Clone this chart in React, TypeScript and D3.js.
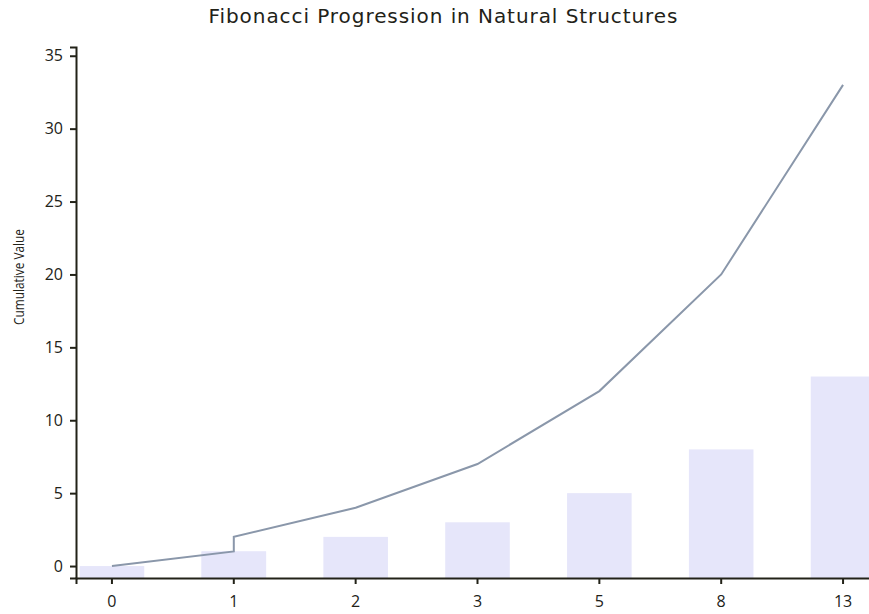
import * as d3 from 'd3';
import { useEffect, useRef } from 'react';

// Fibonacci terms (the two 1s share one x position)
const terms = [0, 1, 1, 2, 3, 5, 8, 13];
const cumulative = [0, 1, 2, 4, 7, 12, 20, 33];
const categories = ['0', '1', '2', '3', '5', '8', '13'];
const yTicks = [0, 5, 10, 15, 20, 25, 30, 35];

const WIDTH = 869;
const HEIGHT = 614;
const margin = { top: 47, right: -10, bottom: 36, left: 76 };
const FONT = '"Open Sans", sans-serif';
const TITLE_FONT = '"DejaVu Sans", sans-serif';
const INK = '#222218';

export default function App() {
    const xAxisRef = useRef<SVGGElement>(null);
    const yAxisRef = useRef<SVGGElement>(null);

    const innerW = WIDTH - margin.left - margin.right;
    const innerH = HEIGHT - margin.top - margin.bottom;

    const x = d3
        .scaleBand<string>()
        .domain(categories)
        .range([0, innerW])
        .paddingInner(0.47)
        .paddingOuter(0.03);

    const y = d3.scaleLinear().domain([-0.82, 35.6]).range([innerH, 0]);

    const line = d3
        .line<number>()
        .x((_, i) => x(String(terms[i]))! + x.bandwidth() / 2)
        .y((d) => y(d));

    useEffect(() => {
        if (xAxisRef.current) {
            d3.select(xAxisRef.current)
                .call(d3.axisBottom(x).tickSizeOuter(0).tickSize(6).tickPadding(12))
                .call((g) => g.select('.domain').attr('stroke', INK).attr('stroke-width', 2))
                .call((g) => g.selectAll('.tick line').attr('stroke', INK).attr('stroke-width', 2))
                .call((g) =>
                    g
                        .selectAll('.tick text')
                        .attr('fill', INK)
                        .attr('font-size', 16)
                        .attr('font-family', FONT)
                );
        }
        if (yAxisRef.current) {
            d3.select(yAxisRef.current)
                .call(d3.axisLeft(y).tickValues(yTicks).tickSizeOuter(0).tickSize(6).tickPadding(7))
                .call((g) => g.select('.domain').attr('stroke', INK).attr('stroke-width', 2))
                .call((g) => g.selectAll('.tick line').attr('stroke', INK).attr('stroke-width', 2))
                .call((g) =>
                    g
                        .selectAll('.tick text')
                        .attr('fill', INK)
                        .attr('font-size', 16)
                        .attr('font-family', FONT)
                );
        }
    }, [x, y]);

    return (
        <svg
            width={WIDTH}
            height={HEIGHT}
            style={{ position: 'absolute', left: 0, top: 0, overflow: 'hidden' }}
        >
            <text
                x={443}
                y={23}
                textAnchor="middle"
                fontFamily={TITLE_FONT}
                fontSize={20}
                textLength={469}
                lengthAdjust="spacing"
                fill={INK}
            >
                Fibonacci Progression in Natural Structures
            </text>
            <text
                transform={`translate(24, 277) rotate(-90)`}
                textAnchor="middle"
                fontFamily={FONT}
                fontSize={15}
                textLength={96}
                lengthAdjust="spacingAndGlyphs"
                fill={INK}
            >
                Cumulative Value
            </text>
            <g transform={`translate(${margin.left}, ${margin.top})`}>
                {terms.map((d, i) => (
                    <rect
                        key={i}
                        x={x(String(d))}
                        y={y(d)}
                        width={x.bandwidth()}
                        height={innerH - y(d)}
                        fill="lavender"
                    />
                ))}
                <path
                    d={line(cumulative) ?? ''}
                    fill="none"
                    stroke="#8a97aa"
                    strokeWidth={2}
                />
                <g ref={xAxisRef} transform={`translate(0, ${innerH})`} />
                <g ref={yAxisRef} />
            </g>
        </svg>
    );
}
